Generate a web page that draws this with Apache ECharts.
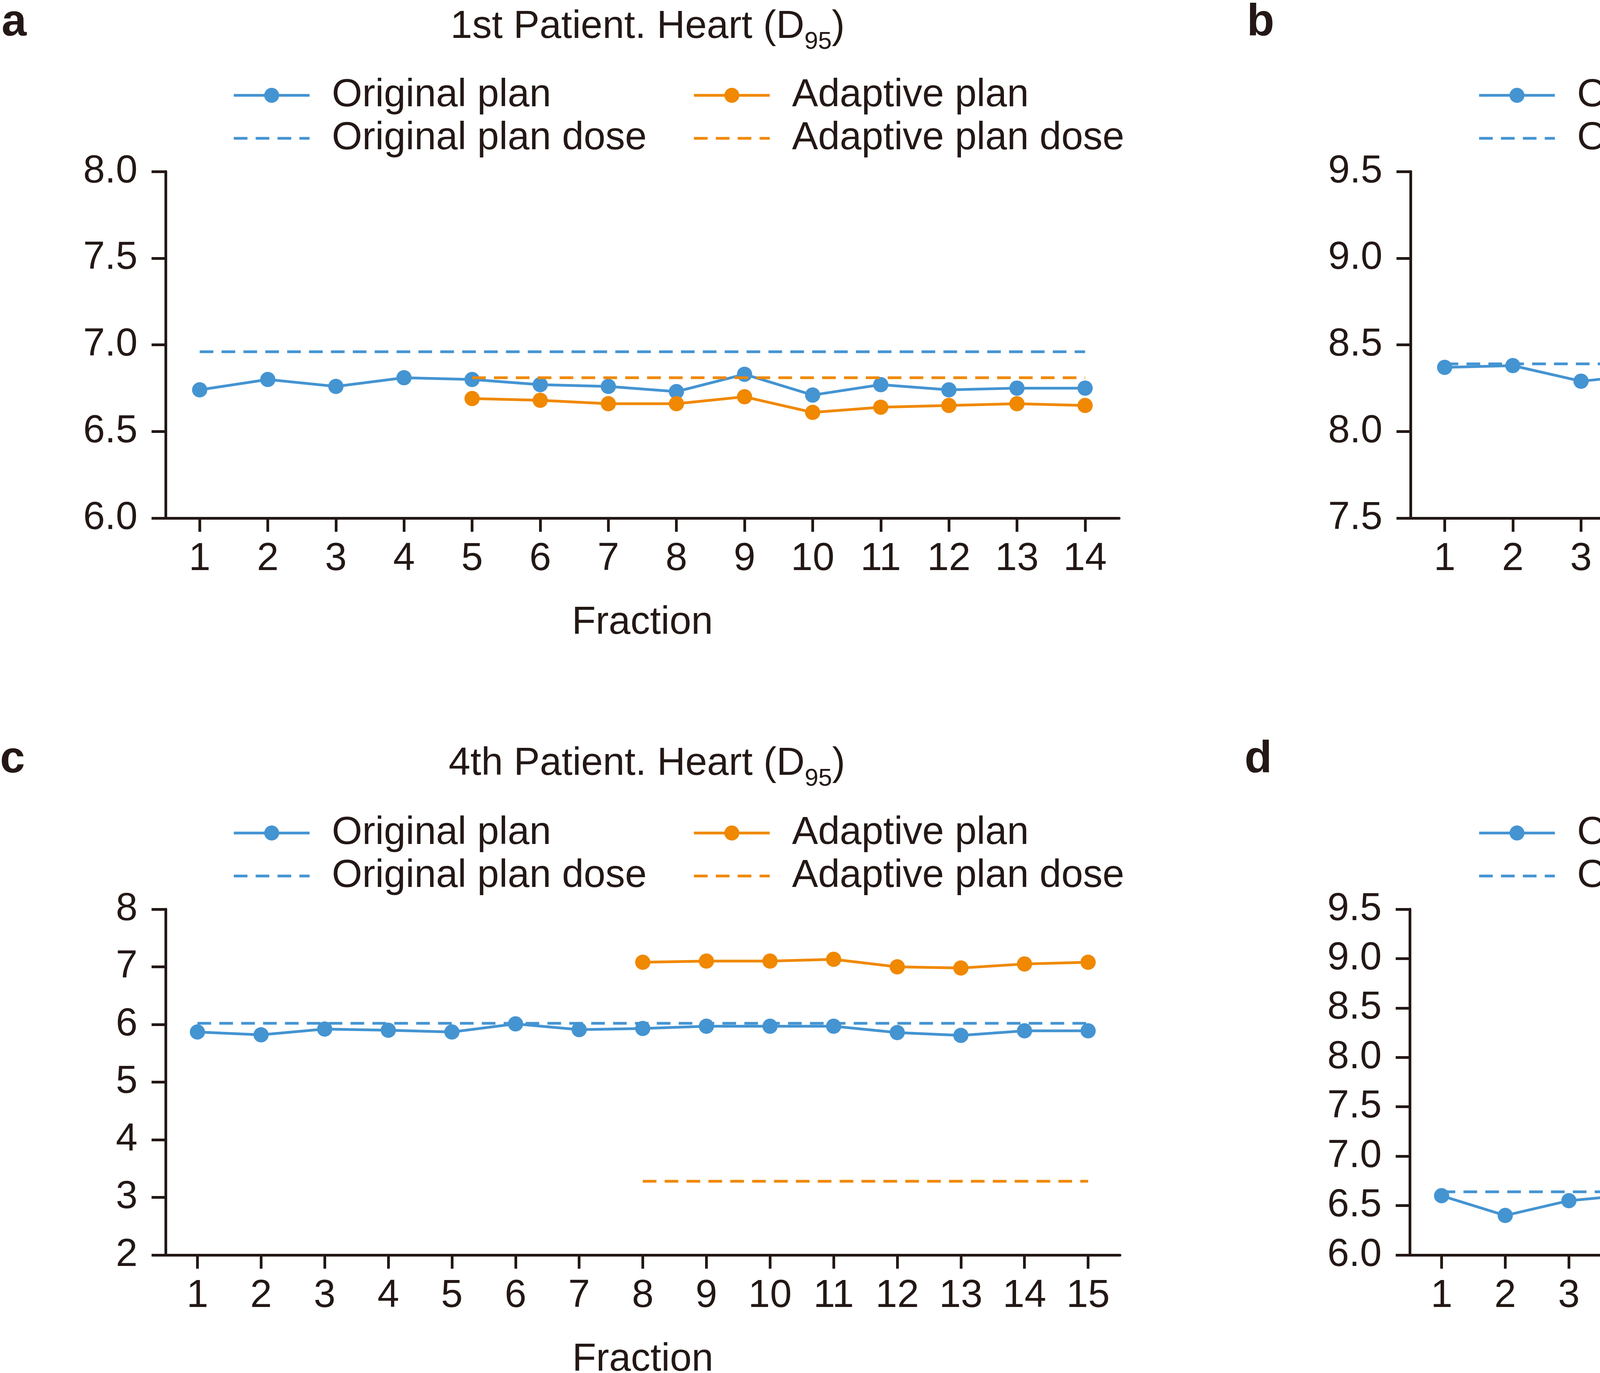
<!DOCTYPE html>
<html>
<head>
<meta charset="utf-8">
<script src="https://cdn.jsdelivr.net/npm/echarts@6/dist/echarts.min.js"></script>
<style>
html,body{margin:0;padding:0;background:#fff;}
#chart{width:6057px;height:3514px;}
</style>
</head>
<body>
<div id="chart"></div>
<script>
// ---------- DATA ----------
const fractions14 = ['1','2','3','4','5','6','7','8','9','10','11','12','13','14'];
const fractions15 = ['1','2','3','4','5','6','7','8','9','10','11','12','13','14','15'];

// Panel a: 1st Patient. Heart (D95)
const aOriginal = [6.74, 6.80, 6.76, 6.81, 6.80, 6.77, 6.76, 6.73, 6.83, 6.71, 6.77, 6.74, 6.75, 6.75];
const aAdaptiveStart = 5;
const aAdaptive = [6.69, 6.68, 6.66, 6.66, 6.70, 6.61, 6.64, 6.65, 6.66, 6.65];
const aOriginalDose = 6.96;
const aAdaptiveDose = 6.81;

// Panel b: 1st Patient. Ipsilateral lung (D95)
const bOriginal = [8.37, 8.38, 8.29, 8.33, 8.28, 8.32, 8.34, 8.31, 8.35, 8.27, 8.31, 8.26, 8.32, 8.31];
const bAdaptiveStart = 5;
const bAdaptive = [8.03, 8.04, 8.06, 8.03, 8.07, 8.00, 7.99, 8.00, 8.02, 8.05];
const bOriginalDose = 8.39;
const bAdaptiveDose = 8.12;

// Panel c: 4th Patient. Heart (D95)
const cOriginal = [5.87, 5.82, 5.92, 5.90, 5.87, 6.01, 5.91, 5.93, 5.97, 5.97, 5.97, 5.86, 5.81, 5.89, 5.89];
const cAdaptiveStart = 8;
const cAdaptive = [7.08, 7.10, 7.10, 7.13, 7.00, 6.98, 7.05, 7.08];
const cOriginalDose = 6.02;
const cAdaptiveDose = 3.28;

// Panel d: 4th Patient. Ipsilateral lung (D95)
const dOriginal = [6.60, 6.40, 6.55, 6.61, 6.47, 6.60, 6.52, 6.63, 6.57, 6.57, 6.57, 6.52, 6.49, 6.53, 6.56];
const dAdaptiveStart = 8;
const dAdaptive = [9.11, 9.04, 9.06, 9.09, 9.00, 9.03, 9.06, 9.09];
const dOriginalDose = 6.64;
const dAdaptiveDose = 7.39;

// Y axis ranges / ticks
const yTicksA = {min: 6.0, max: 8.0, interval: 0.5, decimals: 1};
const yTicksB = {min: 7.5, max: 9.5, interval: 0.5, decimals: 1};
const yTicksC = {min: 2, max: 8, interval: 1, decimals: 0};
const yTicksD = {min: 6.0, max: 9.5, interval: 0.5, decimals: 1};

const titleTexts = [
  ['1st Patient. Heart (D', '95', ')'],
  ['1st Patient. Ipsilateral lung (D', '95', ')'],
  ['4th Patient. Heart (D', '95', ')'],
  ['4th Patient. Ipsilateral lung (D', '95', ')']
];
const panelLetters = ['a', 'b', 'c', 'd'];
const seriesNames = ['Original plan', 'Adaptive plan', 'Original plan dose', 'Adaptive plan dose'];
const xAxisName = 'Fraction';

// ---------- STYLE / LAYOUT ----------
const FONT = '"Liberation Sans", Arial, Helvetica, sans-serif';
const INK = '#231815';
const BLUE = '#4494D2';
const ORANGE = '#F08800';
const FS = 100;
const AXW = 7;
const LW = 7;
const DASH = [35, 21];

const panels = [
  {cats: fractions14, orig: aOriginal, adStart: aAdaptiveStart, ad: aAdaptive, od: aOriginalDose, add: aAdaptiveDose, y: yTicksA,
   grid: {left: 424, top: 439, width: 2441, height: 887}, titleX: 1658, titleBase: 97, letterX: 4, letterBase: 89, legendTop: 194, legendL: [595, 1773]},
  {cats: fractions14, orig: bOriginal, adStart: bAdaptiveStart, ad: bAdaptive, od: bOriginalDose, add: bAdaptiveDose, y: yTicksB,
   grid: {left: 3611, top: 439, width: 2444, height: 887}, titleX: 4846, titleBase: 97, letterX: 3192, letterBase: 89, legendTop: 194, legendL: [3783, 4960]},
  {cats: fractions15, orig: cOriginal, adStart: cAdaptiveStart, ad: cAdaptive, od: cOriginalDose, add: cAdaptiveDose, y: yTicksC,
   grid: {left: 424, top: 2327, width: 2443, height: 885}, titleX: 1656, titleBase: 1983, letterX: 0, letterBase: 1975, legendTop: 2082, legendL: [595, 1773]},
  {cats: fractions15, orig: dOriginal, adStart: dAdaptiveStart, ad: dAdaptive, od: dOriginalDose, add: dAdaptiveDose, y: yTicksD,
   grid: {left: 3609, top: 2327, width: 2444, height: 885}, titleX: 4843, titleBase: 1983, letterX: 3186, letterBase: 1975, legendTop: 2082, legendL: [3783, 4960]}
];

const grids = [], xAxes = [], yAxes = [], series = [], legends = [], graphics = [];

panels.forEach((p, i) => {
  grids.push(Object.assign({containLabel: false, outerBoundsMode: 'none'}, p.grid));
  xAxes.push({
    type: 'category', gridIndex: i, data: p.cats, boundaryGap: true,
    name: xAxisName, nameLocation: 'middle', nameGap: 218,
    nameTextStyle: {fontSize: FS, fontFamily: FONT, color: INK},
    axisLine: {show: true, onZero: false, lineStyle: {color: INK, width: AXW}},
    axisTick: {show: true, alignWithLabel: true, length: 35, lineStyle: {color: INK, width: AXW}},
    axisLabel: {show: true, interval: 0, margin: 55, fontSize: FS, fontFamily: FONT, color: INK},
    splitLine: {show: false}
  });
  yAxes.push({
    type: 'value', gridIndex: i, min: p.y.min, max: p.y.max, interval: p.y.interval,
    axisLine: {show: true, lineStyle: {color: INK, width: AXW}},
    axisTick: {show: true, length: 36, lineStyle: {color: INK, width: AXW}},
    axisLabel: {show: true, margin: 72, fontSize: FS, fontFamily: FONT, color: INK,
      formatter: v => Number(v).toFixed(p.y.decimals)},
    splitLine: {show: false}
  });
  const last = p.cats[p.cats.length - 1];
  series.push({
    name: seriesNames[0], type: 'line', xAxisIndex: i, yAxisIndex: i,
    data: p.orig, symbol: 'circle', symbolSize: 39, showSymbol: true,
    lineStyle: {color: BLUE, width: LW}, itemStyle: {color: BLUE}, z: 3
  });
  series.push({
    name: seriesNames[1], type: 'line', xAxisIndex: i, yAxisIndex: i,
    data: p.ad.map((v, k) => [String(p.adStart + k), v]), symbol: 'circle', symbolSize: 39,
    lineStyle: {color: ORANGE, width: LW}, itemStyle: {color: ORANGE}, z: 3
  });
  series.push({
    name: seriesNames[2], type: 'line', xAxisIndex: i, yAxisIndex: i,
    data: [[p.cats[0], p.od], [last, p.od]], symbol: 'none', showSymbol: false,
    lineStyle: {color: BLUE, width: LW, type: DASH}, itemStyle: {color: BLUE}, z: 4
  });
  series.push({
    name: seriesNames[3], type: 'line', xAxisIndex: i, yAxisIndex: i,
    data: [[String(p.adStart), p.add], [last, p.add]], symbol: 'none', showSymbol: false,
    lineStyle: {color: ORANGE, width: LW, type: DASH}, itemStyle: {color: ORANGE}, z: 4
  });
  const cols = [
    [{name: seriesNames[0]}, {name: seriesNames[2], itemStyle: {opacity: 0}}],
    [{name: seriesNames[1]}, {name: seriesNames[3], itemStyle: {opacity: 0}}]
  ];
  cols.forEach((items, c) => {
    legends.push({
      orient: 'vertical', left: p.legendL[c], top: p.legendTop, padding: 0,
      itemWidth: 194, itemHeight: 48, itemGap: 10, selectedMode: false,
      data: items,
      lineStyle: {width: LW},
      textStyle: {fontSize: FS, lineHeight: 100, fontFamily: FONT, color: INK, padding: [0, 0, 0, 52]}
    });
  });
  const t = titleTexts[i];
  graphics.push({
    type: 'text', x: p.titleX, y: p.titleBase - 83,
    style: {
      text: '{a|' + t[0] + '}{s|' + t[1] + '}{a|' + t[2] + '}',
      align: 'center', verticalAlign: 'top',
      rich: {
        a: {fontSize: FS, lineHeight: 110, fontFamily: FONT, fill: INK},
        s: {fontSize: 63, lineHeight: 63, fontFamily: FONT, fill: INK, padding: [78, 0, 0, 0]}
      }
    }
  });
  graphics.push({
    type: 'text', x: p.letterX, y: p.letterBase - 30,
    style: {text: panelLetters[i], font: 'bold 115px ' + FONT, fill: INK, align: 'left', verticalAlign: 'middle'}
  });
});

const chart = echarts.init(document.getElementById('chart'), null, {renderer: 'canvas'});
chart.setOption({
  animation: false,
  backgroundColor: '#ffffff',
  textStyle: {fontFamily: FONT},
  grid: grids, xAxis: xAxes, yAxis: yAxes, series: series, legend: legends,
  graphic: graphics
});
</script>
</body>
</html>
